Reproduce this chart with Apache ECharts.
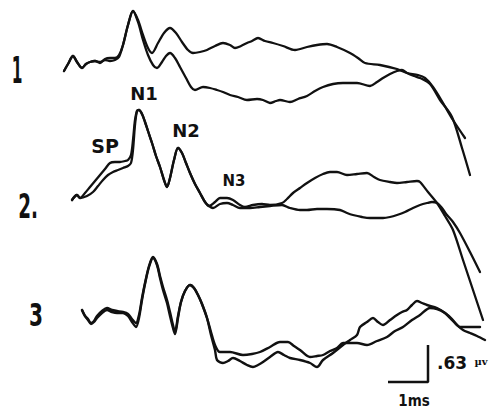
<!DOCTYPE html>
<html>
<head>
<meta charset="utf-8">
<title>Averaged responses 1–3</title>
<script src="https://cdn.jsdelivr.net/npm/echarts@6/dist/echarts.min.js"></script>
<style>
  html, body { margin: 0; padding: 0; background: #fff; }
  #chart { width: 490px; height: 409px; }
</style>
</head>
<body>
<div id="chart"></div>
<script>
// Each recording is a pair of superimposed traces, [time, amplitude] samples
// on a common plotting scale (time grows to the right, amplitude grows downward).
const trace1A = [[64,71],[68,64],[73,56],[77,62],[82,68],[86,64],[90,62],[95,61],[100,63],[105,59],[110,58],[115,58],[119,55],[123,45],[128,25],[133,11],[138,20],[143,35],[148,48],[152,53],[158,43],[164,33],[170,28],[176,33],[182,42],[188,50],[193,53],[200,52],[207,50],[215,46],[223,43],[230,45],[235,48],[241,46],[247,43],[252,41],[258,38],[265,41],[273,43],[283,46],[295,50],[307,47],[317,45],[327,44],[337,47],[350,53],[358,58],[365,63],[380,65],[397,69],[407,73],[418,75],[425,78],[433,87],[443,103],[453,120],[465,138]];
const trace1B = [[64,71],[68,64],[73,56],[77,62],[82,68],[86,64],[90,62],[95,61],[100,62],[105,60],[110,61],[115,60],[119,57],[123,45],[128,25],[133,11],[138,22],[143,40],[148,55],[153,65],[157,68],[162,62],[166,56],[170,53],[175,58],[180,67],[186,78],[191,87],[195,90],[203,87],[210,88],[217,90],[223,92],[230,95],[238,97],[247,100],[257,99],[263,100],[270,103],[276,101],[280,100],[290,102],[298,99],[307,96],[315,91],[323,87],[333,84],[343,83],[357,83],[370,86],[377,82],[383,78],[390,74],[397,71],[402,70],[407,73],[414,76],[420,78],[430,84],[440,100],[452,117],[462,148],[470,175]];

const trace2A = [[72,200],[77,195],[80,198],[85,193],[90,187],[95,181],[100,175],[105,169],[110,163],[115,162],[120,162],[125,161],[128,160],[131,155],[133,140],[135,120],[137,111],[139,110],[142,114],[145,122],[148,131],[152,143],[156,156],[160,167],[164,180],[167,187],[170,178],[174,160],[178,148],[182,153],[186,163],[190,173],[195,184],[200,193],[205,202],[209,206],[215,202],[220,198],[227,198],[233,200],[240,205],[245,207],[253,205],[262,204],[270,205],[282,203],[287,199],[293,193],[300,188],[307,183],[315,178],[323,174],[330,172],[337,172],[347,175],[357,174],[367,173],[374,177],[380,180],[390,182],[397,183],[407,182],[417,181],[420,182],[428,192],[437,203],[445,216],[453,230],[463,260],[473,290],[483,320]];
const trace2B = [[72,200],[77,195],[80,198],[87,196],[93,192],[98,186],[103,180],[108,175],[113,172],[118,170],[123,168],[128,166],[131,163],[133,150],[135,125],[137,111],[139,110],[142,114],[145,122],[148,131],[152,143],[156,156],[160,167],[164,180],[167,187],[170,178],[174,160],[178,148],[182,153],[186,163],[190,173],[195,184],[200,193],[205,202],[209,206],[213,208],[220,204],[227,203],[233,205],[240,208],[250,208],[260,207],[270,206],[282,205],[290,208],[300,210],[307,210],[317,209],[327,209],[340,210],[347,213],[353,215],[362,217],[370,218],[383,218],[390,217],[397,215],[405,212],[413,208],[420,205],[427,203],[432,202],[437,203],[442,208],[447,215],[453,222],[460,233],[470,252],[480,272]];

const trace3A = [[82,310],[85,316],[88,319],[91,323],[94,321],[97,316],[102,311],[107,308],[112,310],[117,311],[123,312],[128,314],[132,319],[136,323],[139,315],[142,298],[145,283],[149,266],[153,257],[157,264],[160,276],[163,287],[167,300],[170,312],[173,325],[175,332],[178,316],[181,302],[185,291],[190,285],[194,288],[198,295],[202,304],[207,318],[211,332],[215,345],[220,352],[230,352],[243,355],[252,354],[260,352],[270,347],[280,342],[288,342],[294,346],[300,350],[310,357],[317,356],[323,355],[330,351],[337,348],[343,343],[350,343],[357,343],[367,345],[377,341],[387,337],[395,331],[403,327],[412,320],[420,315],[430,308],[437,309],[445,313],[452,319],[457,325],[463,330],[470,333],[477,336],[485,340]];
const trace3B = [[82,310],[85,316],[88,320],[91,324],[94,322],[97,318],[102,313],[107,310],[112,312],[117,313],[123,313],[128,316],[132,322],[136,327],[139,318],[142,300],[145,284],[149,267],[153,258],[157,265],[160,278],[163,290],[167,303],[170,316],[173,328],[175,334],[178,318],[181,302],[185,291],[190,285],[194,288],[198,295],[202,304],[207,318],[211,335],[215,350],[217,360],[223,363],[228,361],[233,358],[240,361],[247,365],[253,367],[258,365],[263,362],[270,357],[278,352],[284,355],[290,358],[300,360],[310,363],[317,367],[323,360],[333,353],[343,345],[350,340],[357,335],[360,327],[367,322],[373,318],[378,322],[383,325],[390,320],[397,315],[402,312],[407,310],[412,305],[417,301],[422,303],[427,305],[437,308],[445,313],[450,318],[457,325],[460,327],[470,327],[480,327]];

// Calibration bar: 1 ms horizontally, 0.63 µV vertically
const calibrationBar = [[388,382],[428,382],[428,345]];

// Text annotations
const traceNumbers = ['1', '2.', '3'];
const peakNames = ['SP', 'N1', 'N2', 'N3'];
const calibrationText = ['.63', 'µv', '1ms'];

const chart = echarts.init(document.getElementById('chart'), null, { renderer: 'svg' });

function traceSeries(data, width) {
  return {
    type: 'line',
    data: data,
    showSymbol: false,
    smooth: 0.3,
    silent: true,
    lineStyle: { color: '#111', width: width, cap: 'round', join: 'round' }
  };
}

const numFont = '"Liberation Sans Narrow", "DejaVu Sans Condensed", sans-serif';
const labelFont = '"DejaVu Sans", "Liberation Sans", sans-serif';

// Text centred on (x, y); optional horizontal squeeze around its own centre
function txt(text, x, y, size, family, squeeze) {
  return {
    type: 'text',
    x: x, y: y,
    scaleX: squeeze || 1,
    originX: 0, originY: 0,
    style: {
      text: text,
      fill: '#111',
      font: 'bold ' + size + 'px ' + family,
      textAlign: 'center',
      textVerticalAlign: 'middle'
    }
  };
}

chart.setOption({
  animation: false,
  backgroundColor: '#fff',
  grid: { left: 0, right: 0, top: 0, bottom: 0 },
  xAxis: { type: 'value', min: 0, max: 490, show: false },
  yAxis: { type: 'value', min: 0, max: 409, inverse: true, show: false },
  series: [
    traceSeries(trace1A, 2.3),
    traceSeries(trace1B, 2.3),
    traceSeries(trace2A, 2.3),
    traceSeries(trace2B, 2.3),
    traceSeries(trace3A, 2.4),
    traceSeries(trace3B, 2.4),
    {
      type: 'line',
      data: calibrationBar,
      showSymbol: false,
      silent: true,
      lineStyle: { color: '#111', width: 2.5 }
    }
  ],
  graphic: [
    txt(traceNumbers[0], 17, 70, 38, numFont, 0.45),
    txt(traceNumbers[1], 28, 206, 34, numFont, 0.6),
    txt(traceNumbers[2], 36, 315, 32, numFont, 0.7),
    txt(peakNames[0], 105, 146, 19, labelFont),
    txt(peakNames[1], 144, 93, 18, labelFont),
    txt(peakNames[2], 186, 130, 18, labelFont),
    txt(peakNames[3], 234, 181, 15, labelFont),
    txt(calibrationText[0], 452, 363, 17, labelFont),
    txt(calibrationText[1], 481, 361, 10, '"DejaVu Serif", serif'),
    txt(calibrationText[2], 414, 401, 15, numFont)
  ]
});
</script>
</body>
</html>
